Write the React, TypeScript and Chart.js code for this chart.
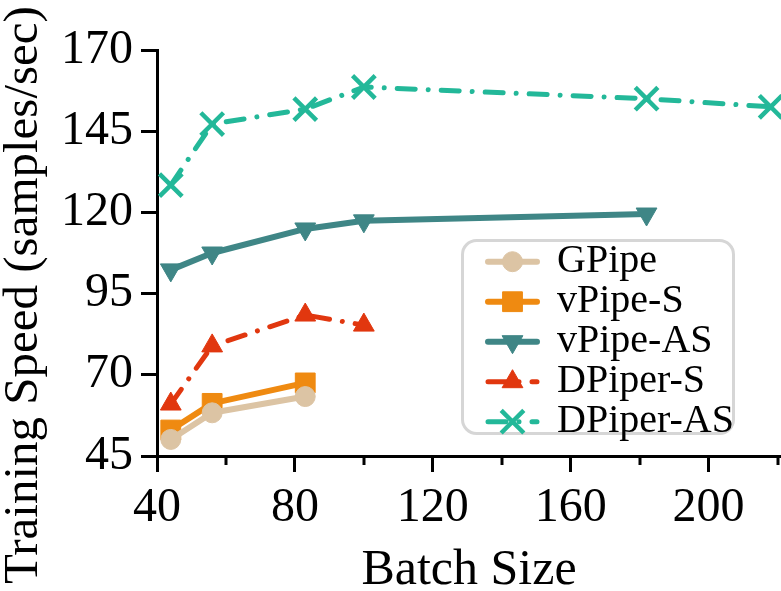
import React, { useEffect, useRef } from "react";
import { Chart, registerables } from "chart.js";

Chart.register(...registerables);

const FONT = '"Liberation Serif", "Times New Roman", Times, serif';

const xTitle = "Batch Size";
const yTitle = "Training Speed (samples/sec)";

const xMin = 40;
const xMax = 221;
const xMajorStep = 40;
const xMinorTicks = [60, 100, 140, 180, 220];
const yMin = 45;
const yMax = 170;
const yStep = 25;

const seriesNames = ["GPipe", "vPipe-S", "vPipe-AS", "DPiper-S", "DPiper-AS"];
const seriesColors = ["#dcc4a4", "#ef8a11", "#3f8686", "#e1370f", "#23b899"];

const gpipeBatch = [44, 56, 83];
const gpipeSpeed = [50.1, 58.3, 63.3];
const vpipeSBatch = [44, 56, 83];
const vpipeSSpeed = [53.0, 61.2, 67.5];
const vpipeASBatch = [44, 56, 83, 100, 182];
const vpipeASSpeed = [102.3, 107.5, 114.9, 117.4, 119.5];
const dpiperSBatch = [44, 56, 83, 100];
const dpiperSSpeed = [61.0, 78.9, 88.4, 85.3];
const dpiperASBatch = [44, 56, 83, 100, 182, 218];
const dpiperASSpeed = [128.4, 147.2, 151.8, 158.6, 155.0, 152.5];

const pts = (xs: number[], ys: number[]) => xs.map((x, i) => ({ x, y: ys[i] }));

const DASH_DOT = [18, 13, 0.01, 13];

function drawMarker(ctx: CanvasRenderingContext2D, style: string, rotDeg: number, r: number, x: number, y: number, color: string, bw: number) {
  ctx.save();
  ctx.fillStyle = color;
  ctx.strokeStyle = color;
  ctx.lineWidth = bw;
  ctx.setLineDash([]);
  ctx.beginPath();
  let rad = ((rotDeg || 0) * Math.PI) / 180;
  if (style === "circle") {
    ctx.arc(x, y, r, 0, Math.PI * 2);
    ctx.fill();
    if (bw) ctx.stroke();
  } else if (style === "rect") {
    const s = Math.SQRT1_2 * r;
    ctx.rect(x - s, y - s, 2 * s, 2 * s);
    ctx.fill();
    if (bw) ctx.stroke();
  } else if (style === "triangle") {
    const T = (2 * Math.PI) / 3;
    ctx.moveTo(x + Math.sin(rad) * r, y - Math.cos(rad) * r);
    rad += T;
    ctx.lineTo(x + Math.sin(rad) * r, y - Math.cos(rad) * r);
    rad += T;
    ctx.lineTo(x + Math.sin(rad) * r, y - Math.cos(rad) * r);
    ctx.closePath();
    ctx.fill();
    if (bw) ctx.stroke();
  } else if (style === "crossRot") {
    rad += Math.PI / 4;
    const xo = Math.cos(rad) * r;
    const yo = Math.sin(rad) * r;
    ctx.moveTo(x - xo, y - yo);
    ctx.lineTo(x + xo, y + yo);
    ctx.moveTo(x + yo, y - xo);
    ctx.lineTo(x - yo, y + xo);
    ctx.stroke();
  }
  ctx.restore();
}

const overlayPlugin = {
  id: "overlay",
  afterDraw(chart: any) {
    const ctx: CanvasRenderingContext2D = chart.ctx;
    const xs = chart.scales.x;
    const area = chart.chartArea;
    ctx.save();
    // minor x ticks
    ctx.strokeStyle = "#000";
    ctx.lineWidth = 3;
    xMinorTicks.forEach((v) => {
      const px = Math.round(xs.getPixelForValue(v));
      ctx.beginPath();
      ctx.moveTo(px, area.bottom);
      ctx.lineTo(px, area.bottom + 9);
      ctx.stroke();
    });

    // y-axis title
    ctx.save();
    ctx.translate(37, 584);
    ctx.rotate(-Math.PI / 2);
    ctx.font = `49px ${FONT}`;
    ctx.fillStyle = "#000";
    ctx.textAlign = "left";
    ctx.textBaseline = "alphabetic";
    ctx.fillText(yTitle, 0, 0);
    ctx.restore();

    // legend
    const bx = 462.5, by = 240.5, bw = 271, bh = 193;
    ctx.beginPath();
    (ctx as any).roundRect(bx, by, bw, bh, 14);
    ctx.fillStyle = "rgba(255,255,255,0.85)";
    ctx.fill();
    ctx.lineWidth = 3;
    ctx.strokeStyle = "#d6d6d6";
    ctx.stroke();
    chart.data.datasets.forEach((ds: any, i: number) => {
      const y = 261.7 + i * 40;
      ctx.save();
      ctx.beginPath();
      ctx.setLineDash(ds.borderDash || []);
      ctx.lineCap = "round";
      ctx.lineWidth = ds.borderWidth;
      ctx.strokeStyle = ds.borderColor;
      ctx.moveTo(488, y);
      ctx.lineTo(537, y);
      ctx.stroke();
      ctx.restore();
      drawMarker(ctx, ds.pointStyle, ds.pointRotation, ds.pointRadius, 512.5, y, ds.pointBackgroundColor, ds.pointBorderWidth);
      ctx.fillStyle = "#000";
      ctx.font = `40px ${FONT}`;
      ctx.textBaseline = "middle";
      ctx.textAlign = "left";
      ctx.fillText(ds.label, 557, y);
    });
    ctx.restore();
  },
};

export default function App() {
  const ref = useRef<HTMLCanvasElement>(null);
  useEffect(() => {
    if (!ref.current) return;
    const mk = (i: number, data: any[], style: string, radius: number, extra: any = {}) => ({
      label: seriesNames[i],
      data,
      borderColor: seriesColors[i],
      backgroundColor: seriesColors[i],
      pointBackgroundColor: seriesColors[i],
      pointBorderColor: seriesColors[i],
      pointStyle: style,
      pointRadius: radius,
      pointHoverRadius: radius,
      pointBorderWidth: 1,
      pointRotation: 0,
      borderWidth: 6,
      borderCapStyle: "round",
      borderJoinStyle: "round",
      tension: 0,
      fill: false,
      ...extra,
    });
    const datasets = [
      mk(0, pts(gpipeBatch, gpipeSpeed), "circle", 10),
      mk(1, pts(vpipeSBatch, vpipeSSpeed), "rect", 14),
      mk(2, pts(vpipeASBatch, vpipeASSpeed), "triangle", 12, { pointRotation: 180 }),
      mk(3, pts(dpiperSBatch, dpiperSSpeed), "triangle", 12, { borderDash: DASH_DOT, borderWidth: 5 }),
      mk(4, pts(dpiperASBatch, dpiperASSpeed), "crossRot", 16, { borderDash: DASH_DOT, borderWidth: 5, pointBorderWidth: 4.5 }),
    ];
    const tickFont = { family: FONT, size: 48 };
    const chart = new Chart(ref.current, {
      type: "line",
      data: { datasets },
      options: {
        animation: false,
        responsive: false,
        maintainAspectRatio: false,
        layout: { autoPadding: false, padding: { top: 50, left: 0, right: 0, bottom: 0 } },
        plugins: { legend: { display: false }, tooltip: { enabled: false } },
        scales: {
          x: {
            type: "linear",
            min: xMin,
            max: xMax,
            ticks: {
              stepSize: xMajorStep,
              includeBounds: false,
              autoSkip: false,
              maxRotation: 0,
              minRotation: 0,
              padding: 8,
              color: "#000",
              font: tickFont,
            },
            grid: { drawOnChartArea: false, drawTicks: true, tickLength: 16, tickWidth: 3, tickColor: "#000", color: "#000", lineWidth: 3 },
            border: { display: true, color: "#000", width: 3 },
            title: { display: true, text: xTitle, color: "#000", font: { family: FONT, size: 50, lineHeight: 0.8 }, padding: 0 },
            afterFit: (s: any) => { s.height = 135; s.paddingLeft = 0; s.paddingRight = 0; },
          },
          y: {
            type: "linear",
            min: yMin,
            max: yMax,
            ticks: { stepSize: yStep, padding: 8, color: "#000", font: tickFont },
            grid: { drawOnChartArea: false, drawTicks: true, tickLength: 16, tickWidth: 3, tickColor: "#000", color: "#000", lineWidth: 3 },
            border: { display: true, color: "#000", width: 3 },
            afterFit: (s: any) => { s.width = 157; },
          },
        },
      } as any,
      plugins: [overlayPlugin],
    });
    return () => chart.destroy();
  }, []);
  return (
    <div style={{ position: "fixed", left: 0, top: 0, width: 781, height: 591, background: "#fff" }}>
      <canvas ref={ref} width={781} height={591} style={{ width: 781, height: 591, display: "block" }} />
    </div>
  );
}
